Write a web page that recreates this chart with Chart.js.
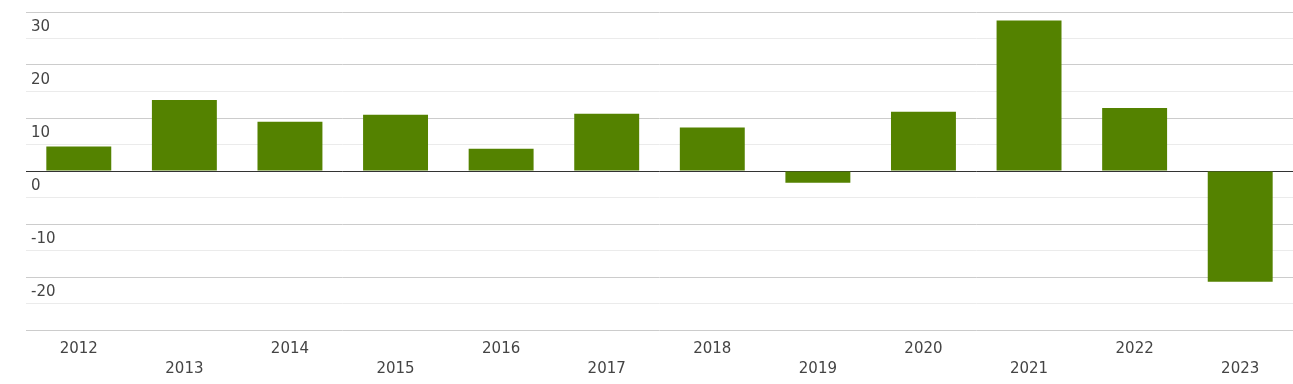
<!DOCTYPE html>
<html>
<head>
<meta charset="utf-8">
<script src="https://cdn.jsdelivr.net/npm/chart.js@4/dist/chart.umd.min.js"></script>
<style>
html,body{margin:0;padding:0;background:#fff;}
#wrap{width:1293px;height:384px;}
</style>
</head>
<body>
<div id="wrap"><canvas id="c"></canvas></div>
<script>
const categories = ["2012","2013","2014","2015","2016","2017","2018","2019","2020","2021","2022","2023"];
const values = [4.6, 13.4, 9.3, 10.6, 4.2, 10.8, 8.2, -2.2, 11.2, 28.4, 11.9, -20.9];
const yTickLabels = ["30","20","10","0","-10","-20"];

const xLabels = categories.map((c, i) => i % 2 === 0 ? [c] : ["", c]);

new Chart(document.getElementById('c'), {
  type: 'bar',
  data: {
    labels: xLabels,
    datasets: [{
      data: values,
      backgroundColor: '#548200',
      borderWidth: 0,
      barPercentage: 0.615,
      categoryPercentage: 1.0
    }]
  },
  options: {
    responsive: true,
    maintainAspectRatio: false,
    animation: false,
    layout: { padding: { left: 16, right: 0, top: 12, bottom: 0 } },
    plugins: { legend: { display: false }, tooltip: { enabled: false } },
    scales: {
      x: {
        grid: { display: false },
        border: { display: false },
        afterFit: (s) => { s.height = 54; s.paddingLeft = 0; s.paddingRight = 0; },
        ticks: {
          color: '#444',
          font: { family: 'DejaVu Sans', size: 15, lineHeight: '20px' },
          maxRotation: 0,
          autoSkip: false,
          padding: 1
        }
      },
      y: {
        min: -30,
        max: 30,
        border: { display: false },
        afterFit: (s) => { s.paddingTop = 0; s.paddingBottom = 0; },
        grid: {
          drawTicks: false,
          lineWidth: 1,
          color: (ctx) => {
            const v = ctx.tick ? ctx.tick.value : 0;
            if (v === 0) return '#333333';
            if (Math.abs(v) % 10 === 0) return '#cccccc';
            return '#ebebeb';
          }
        },
        ticks: {
          stepSize: 5,
          mirror: true,
          padding: 5,
          labelOffset: 15,
          color: '#444',
          font: { family: 'DejaVu Sans', size: 15 },
          callback: (v) => {
            const s = String(v);
            return yTickLabels.includes(s) ? s : '';
          }
        }
      }
    }
  }
});
</script>
</body>
</html>
